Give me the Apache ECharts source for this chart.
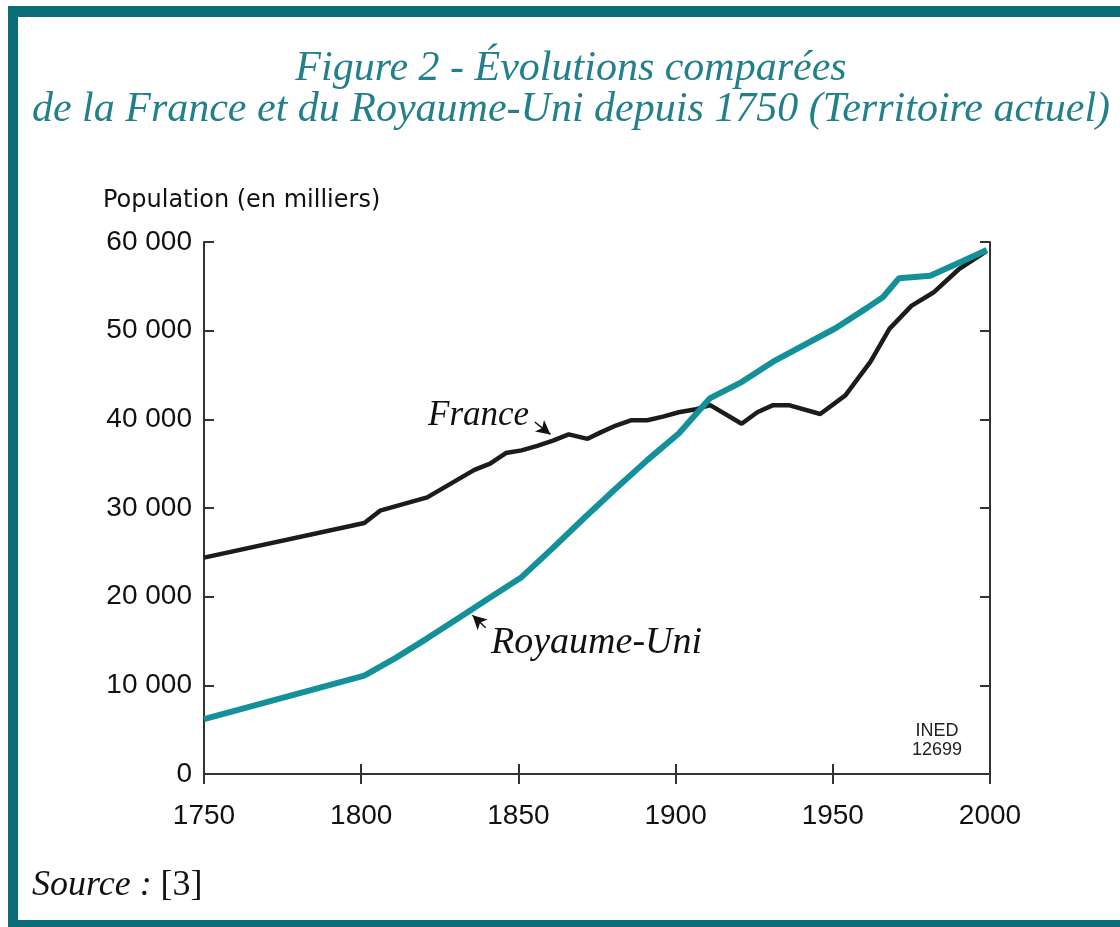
<!DOCTYPE html>
<html>
<head>
<meta charset="utf-8">
<script src="https://cdn.jsdelivr.net/npm/echarts@6/dist/echarts.min.js"></script>
<style>
  html, body { margin: 0; padding: 0; background: #fff; }
  #main { width: 1120px; height: 927px; }
</style>
</head>
<body>
<div id="main"></div>
<script>
// valeurs (population en milliers)
var franceYears = [1750, 1801, 1806, 1821, 1836, 1841, 1846, 1851, 1856, 1861, 1866, 1872, 1876, 1881, 1886, 1891, 1896, 1901, 1906, 1911, 1921, 1926, 1931, 1936, 1946, 1954, 1962, 1968, 1975, 1982, 1990, 1999];
var franceValues = [24400, 28300, 29700, 31200, 34300, 35000, 36200, 36500, 37000, 37600, 38300, 37800, 38500, 39300, 39900, 39900, 40300, 40800, 41100, 41600, 39500, 40800, 41600, 41600, 40600, 42700, 46500, 50200, 52800, 54300, 56900, 59000];

var ukYears = [1750, 1801, 1811, 1821, 1831, 1841, 1851, 1861, 1871, 1881, 1891, 1901, 1911, 1921, 1931, 1951, 1961, 1966, 1971, 1981, 1991, 1999];
var ukValues = [6200, 11100, 13100, 15300, 17600, 19900, 22200, 25500, 28900, 32200, 35400, 38400, 42400, 44200, 46500, 50300, 52600, 53800, 55900, 56200, 57800, 59100];

var xTicks = [1750, 1800, 1850, 1900, 1950, 2000];
var yTicks = [0, 10000, 20000, 30000, 40000, 50000, 60000];

var teal = '#13909a';
var frame = '#0b6d76';
var axisColor = '#333';

function pairs(xs, ys) {
  return xs.map(function (x, i) { return [x, ys[i]]; });
}
function fmtPop(v) {
  if (v === 0) return '0';
  return String(v).replace(/\B(?=(\d{3})+(?!\d))/g, ' ');
}

var chart = echarts.init(document.getElementById('main'));

var axisBase = {
  type: 'value',
  axisLine: { show: true, lineStyle: { color: axisColor, width: 2 } },
  axisTick: { show: true, inside: true, length: 10, lineStyle: { color: axisColor, width: 2 } },
  splitLine: { show: false }
};

chart.setOption({
  animation: false,
  backgroundColor: '#fff',
  grid: { left: 204, right: 130, top: 242, bottom: 153, outerBoundsMode: 'none' },
  xAxis: [
    Object.assign({}, axisBase, {
      min: xTicks[0], max: xTicks[xTicks.length - 1], interval: 50,
      axisLabel: {
        margin: 28, color: '#111', fontSize: 28, fontFamily: 'Liberation Sans',
        formatter: function (v) { return String(v); }
      }
    }),
    Object.assign({}, axisBase, {
      position: 'top',
      min: xTicks[0], max: xTicks[xTicks.length - 1], interval: 50,
      axisLabel: { show: false }
    })
  ],
  yAxis: [
    Object.assign({}, axisBase, {
      min: yTicks[0], max: yTicks[yTicks.length - 1], interval: 10000,
      axisLabel: {
        margin: 12, color: '#111', fontSize: 28, fontFamily: 'Liberation Sans',
        formatter: fmtPop
      }
    }),
    Object.assign({}, axisBase, {
      position: 'right',
      min: yTicks[0], max: yTicks[yTicks.length - 1], interval: 10000,
      axisLabel: { show: false }
    })
  ],
  series: [
    {
      name: 'France',
      type: 'line',
      data: pairs(franceYears, franceValues),
      showSymbol: false,
      lineStyle: { color: '#1c1c1c', width: 4.5 },
      itemStyle: { color: '#1c1c1c' },
      z: 3,
      markLine: {
        silent: true,
        symbol: ['none', 'arrow'],
        symbolSize: [11, 14],
        lineStyle: { color: '#111', width: 1.5, type: 'solid' },
        label: { show: false },
        data: [[{ coord: [1855.2, 39700] }, { coord: [1860.2, 38300] }]]
      }
    },
    {
      name: 'Royaume-Uni',
      type: 'line',
      data: pairs(ukYears, ukValues),
      showSymbol: false,
      lineStyle: { color: teal, width: 6 },
      itemStyle: { color: teal },
      z: 4,
      markLine: {
        silent: true,
        symbol: ['none', 'arrow'],
        symbolSize: [11, 14],
        lineStyle: { color: '#111', width: 1.5, type: 'solid' },
        label: { show: false },
        data: [[{ coord: [1839.6, 16500] }, { coord: [1835.4, 17900] }]]
      }
    }
  ],
  graphic: [
    // cadre
    { type: 'rect', shape: { x: 8, y: 6, width: 1112, height: 11 }, style: { fill: frame } },
    { type: 'rect', shape: { x: 8, y: 6, width: 10, height: 921 }, style: { fill: frame } },
    { type: 'rect', shape: { x: 8, y: 920, width: 1112, height: 7 }, style: { fill: frame } },
    // titre
    {
      type: 'text', x: 571, y: 48,
      style: {
        text: 'Figure 2 - Évolutions comparées\nde la France et du Royaume-Uni depuis 1750 (Territoire actuel)',
        fill: '#21808a', font: 'italic 42px "Liberation Serif"', align: 'center', verticalAlign: 'top', lineHeight: 41
      }
    },
    {
      type: 'text', x: 103, y: 189,
      style: { text: 'Population (en milliers)', fill: '#111', font: '24px "DejaVu Sans"' }
    },
    {
      type: 'text', x: 428, y: 398,
      style: { text: 'France', fill: '#111', font: 'italic 35px "Liberation Serif"' }
    },
    {
      type: 'text', x: 491, y: 624,
      style: { text: 'Royaume-Uni', fill: '#111', font: 'italic 38px "Liberation Serif"' }
    },
    {
      type: 'text', x: 937, y: 722,
      style: { text: 'INED\n12699', fill: '#222', font: '18px "Liberation Sans"', align: 'center', lineHeight: 19 }
    },
    {
      type: 'text', x: 32, y: 868,
      style: {
        text: '{i|Source :} [3]',
        fill: '#111', font: '36px "Liberation Serif"',
        rich: { i: { fontStyle: 'italic', fontSize: 36, fontFamily: 'Liberation Serif' } }
      }
    }
  ]
});
</script>
</body>
</html>
